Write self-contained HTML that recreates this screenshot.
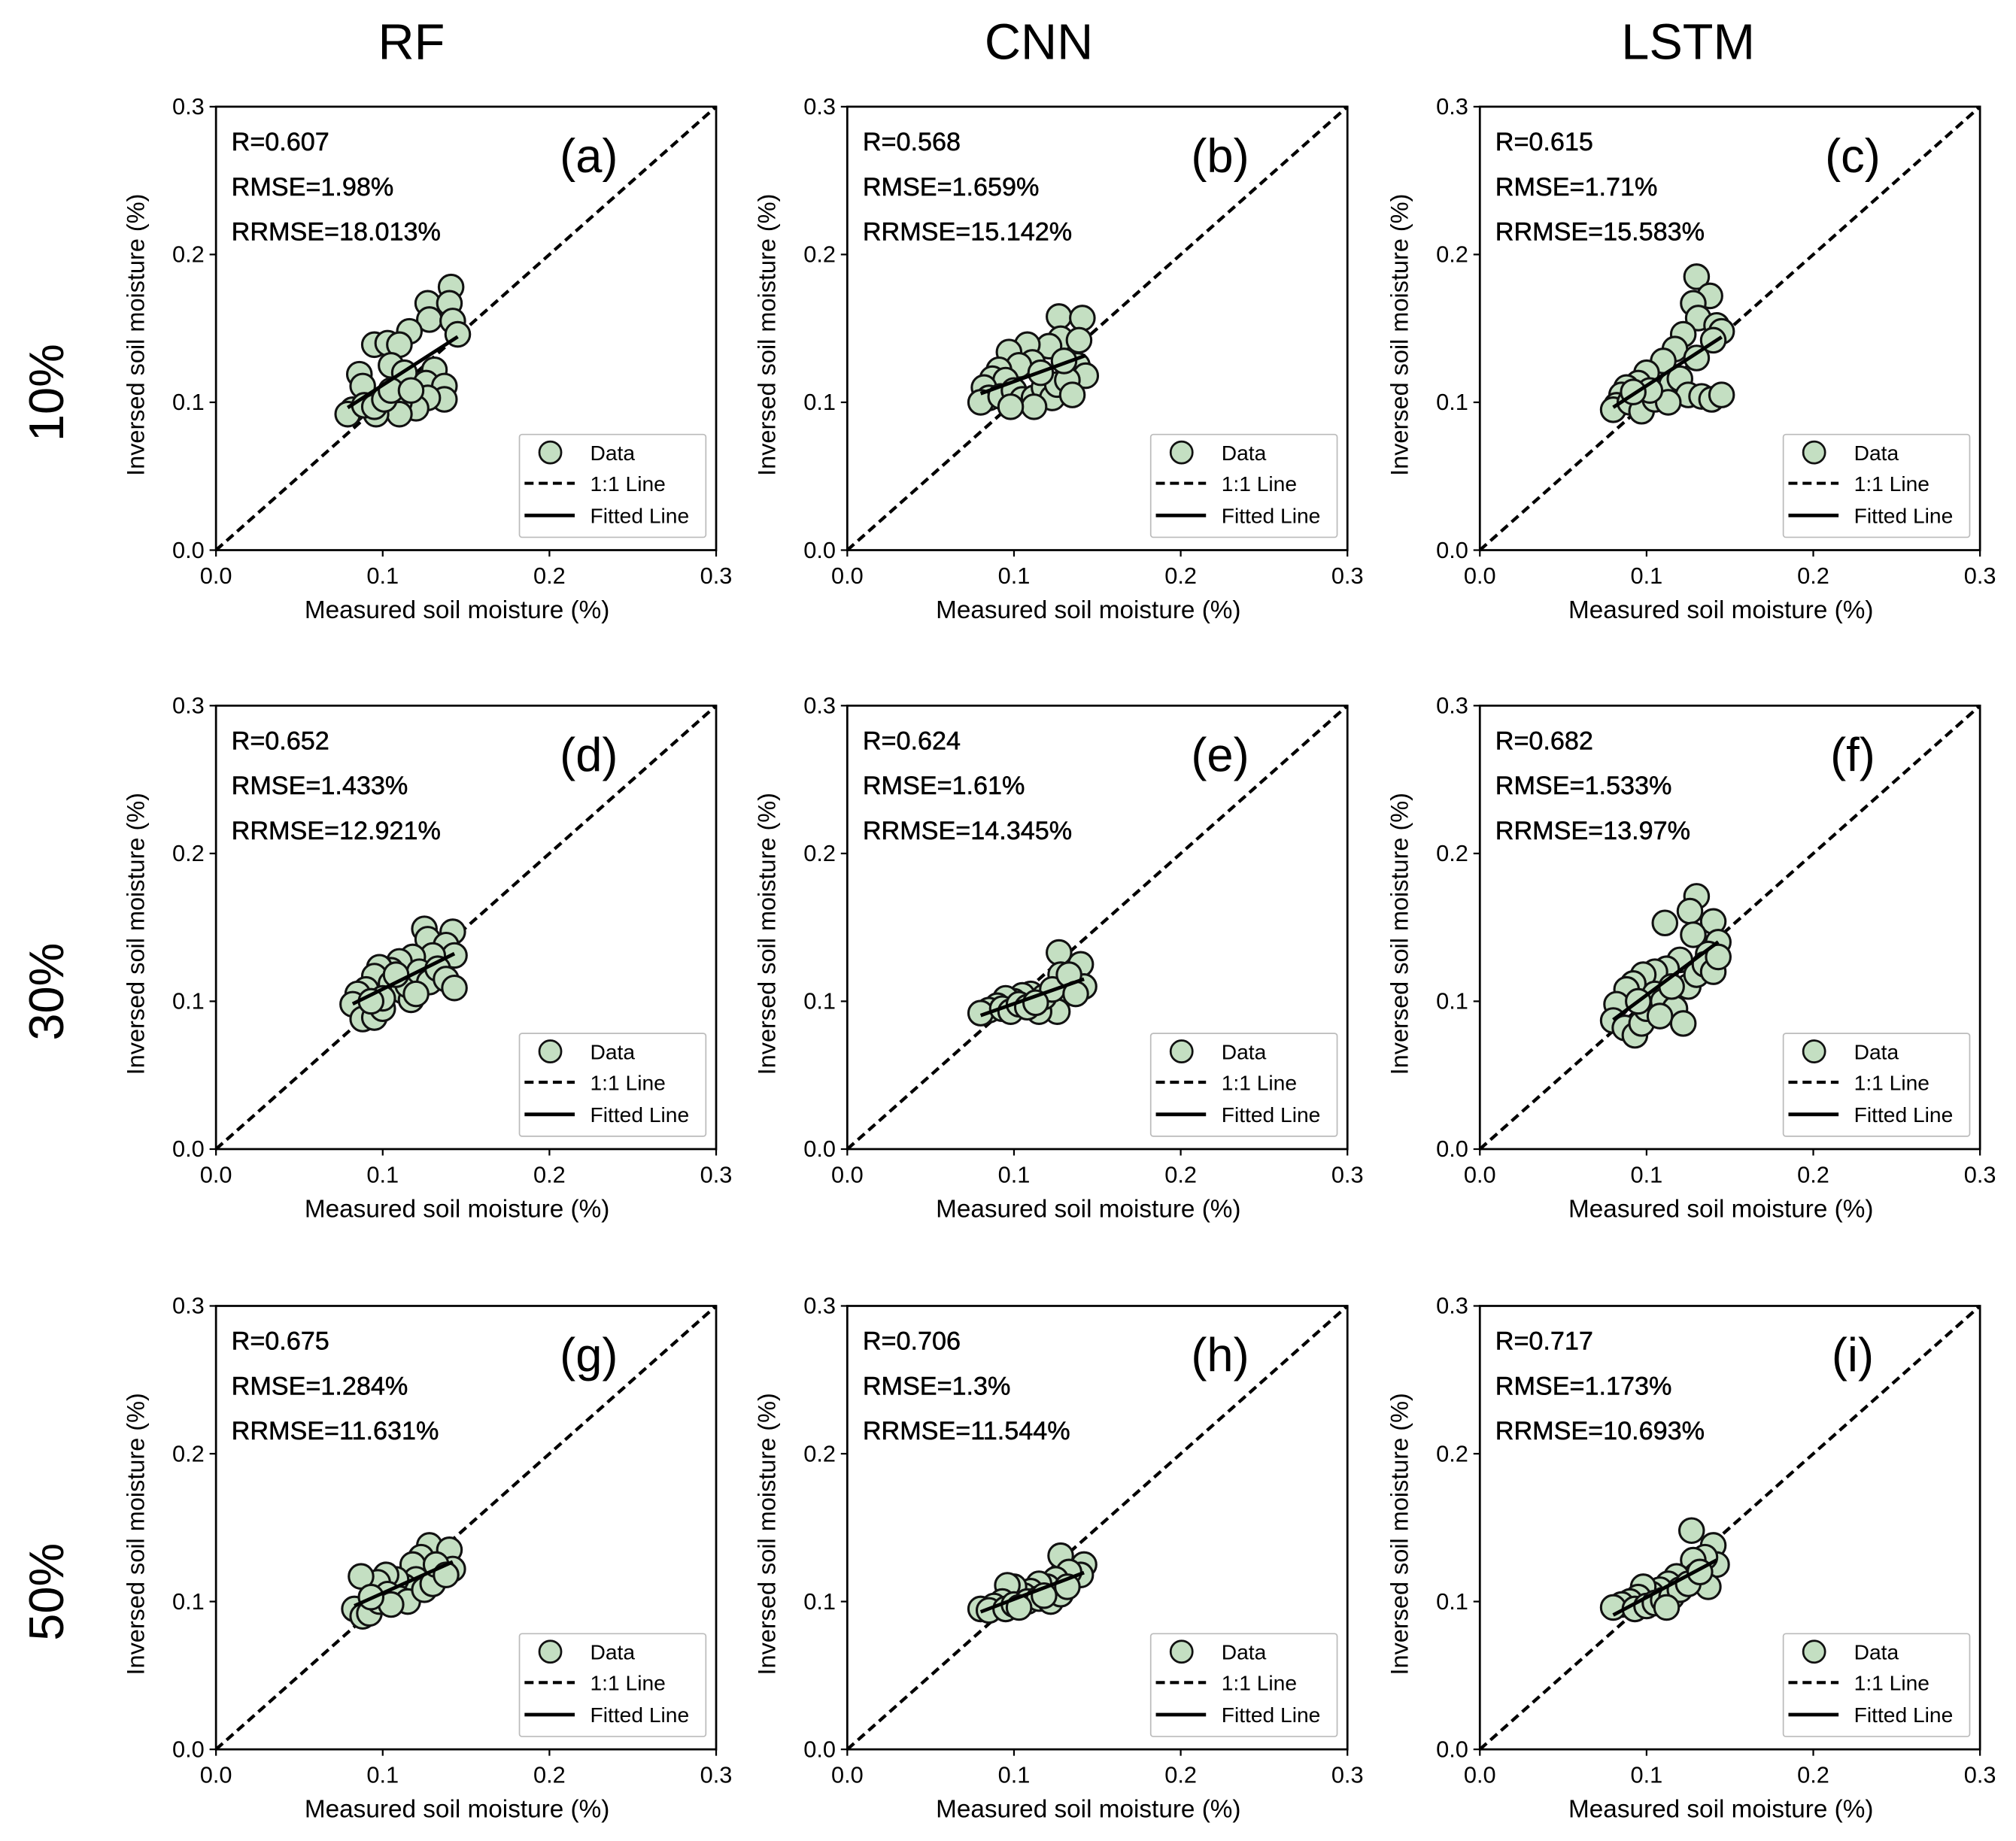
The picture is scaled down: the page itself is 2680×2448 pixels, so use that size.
<!DOCTYPE html>
<html><head><meta charset="utf-8"><style>
html,body{margin:0;padding:0;background:#fff}
svg{display:block}
text{font-family:"Liberation Sans",Arial,sans-serif;fill:#000}
</style></head><body>
<svg id="fig" width="2680" height="2448" viewBox="0 0 1568 1432.3" preserveAspectRatio="none" xmlns="http://www.w3.org/2000/svg"></svg>
<script>
const modelNames = ["RF","CNN","LSTM"];
const rowNames = ["10%","30%","50%"];
const panelLetters = ["(a)","(b)","(c)","(d)","(e)","(f)","(g)","(h)","(i)"];
const statR = ["0.607","0.568","0.615","0.652","0.624","0.682","0.675","0.706","0.717"];
const statRMSE = ["1.98%","1.659%","1.71%","1.433%","1.61%","1.533%","1.284%","1.3%","1.173%"];
const statRRMSE = ["18.013%","15.142%","15.583%","12.921%","14.345%","13.97%","11.631%","11.544%","10.693%"];
const ticks = [0.0,0.1,0.2,0.3];
const tickLabels = ["0.0","0.1","0.2","0.3"];
const dataA = [[0.141,0.178],[0.127,0.167],[0.140,0.167],[0.128,0.156],[0.142,0.155],[0.116,0.148],[0.095,0.139],[0.103,0.140],[0.110,0.139],[0.145,0.146],[0.105,0.125],[0.086,0.119],[0.088,0.111],[0.113,0.120],[0.131,0.122],[0.126,0.113],[0.137,0.111],[0.137,0.102],[0.127,0.103],[0.120,0.096],[0.110,0.100],[0.110,0.092],[0.096,0.092],[0.082,0.095],[0.079,0.092],[0.089,0.098],[0.095,0.097],[0.101,0.102],[0.105,0.108],[0.117,0.108]];
const dataB = [[0.127,0.158],[0.141,0.157],[0.128,0.143],[0.139,0.142],[0.138,0.125],[0.143,0.118],[0.121,0.138],[0.108,0.139],[0.097,0.134],[0.111,0.127],[0.103,0.125],[0.091,0.122],[0.087,0.116],[0.095,0.115],[0.082,0.110],[0.085,0.103],[0.080,0.100],[0.092,0.104],[0.100,0.108],[0.105,0.102],[0.112,0.103],[0.118,0.110],[0.123,0.103],[0.126,0.112],[0.132,0.115],[0.112,0.097],[0.098,0.097],[0.130,0.128],[0.116,0.120],[0.135,0.105]];
const dataC = [[0.130,0.185],[0.138,0.172],[0.128,0.167],[0.131,0.157],[0.142,0.152],[0.145,0.148],[0.140,0.142],[0.122,0.146],[0.117,0.136],[0.130,0.130],[0.110,0.128],[0.100,0.120],[0.095,0.113],[0.088,0.110],[0.085,0.105],[0.082,0.098],[0.080,0.095],[0.090,0.100],[0.097,0.094],[0.105,0.102],[0.110,0.107],[0.115,0.112],[0.120,0.116],[0.125,0.105],[0.133,0.104],[0.139,0.102],[0.145,0.105],[0.113,0.100],[0.102,0.108],[0.092,0.107]];
const dataD = [[0.125,0.149],[0.142,0.147],[0.127,0.142],[0.138,0.138],[0.143,0.131],[0.130,0.131],[0.118,0.130],[0.110,0.127],[0.105,0.121],[0.098,0.123],[0.095,0.117],[0.090,0.108],[0.085,0.105],[0.082,0.098],[0.088,0.088],[0.095,0.089],[0.100,0.095],[0.105,0.112],[0.112,0.107],[0.117,0.101],[0.115,0.111],[0.122,0.120],[0.128,0.113],[0.133,0.122],[0.138,0.115],[0.143,0.109],[0.100,0.102],[0.093,0.100],[0.108,0.118],[0.120,0.105]];
const dataE = [[0.127,0.133],[0.140,0.125],[0.128,0.118],[0.135,0.113],[0.142,0.110],[0.130,0.105],[0.120,0.100],[0.126,0.093],[0.115,0.093],[0.110,0.105],[0.105,0.104],[0.100,0.100],[0.095,0.102],[0.090,0.097],[0.085,0.094],[0.080,0.092],[0.093,0.095],[0.098,0.093],[0.103,0.098],[0.108,0.096],[0.118,0.103],[0.123,0.108],[0.133,0.118],[0.137,0.105],[0.113,0.099]];
const dataF = [[0.111,0.153],[0.130,0.171],[0.126,0.161],[0.140,0.154],[0.128,0.145],[0.143,0.140],[0.137,0.132],[0.120,0.128],[0.112,0.122],[0.105,0.120],[0.098,0.118],[0.092,0.112],[0.088,0.108],[0.082,0.098],[0.080,0.087],[0.087,0.082],[0.093,0.077],[0.097,0.085],[0.100,0.095],[0.105,0.105],[0.110,0.100],[0.117,0.095],[0.122,0.085],[0.125,0.110],[0.130,0.118],[0.135,0.125],[0.140,0.120],[0.095,0.100],[0.108,0.090],[0.115,0.110],[0.143,0.130]];
const dataG = [[0.128,0.138],[0.140,0.135],[0.142,0.122],[0.135,0.120],[0.123,0.130],[0.118,0.125],[0.120,0.115],[0.113,0.110],[0.108,0.115],[0.102,0.118],[0.097,0.113],[0.087,0.117],[0.083,0.095],[0.088,0.090],[0.092,0.092],[0.098,0.100],[0.103,0.105],[0.110,0.102],[0.115,0.100],[0.125,0.108],[0.130,0.112],[0.105,0.098],[0.093,0.103],[0.132,0.125],[0.138,0.118]];
const dataH = [[0.128,0.131],[0.142,0.125],[0.140,0.118],[0.133,0.120],[0.125,0.115],[0.120,0.110],[0.115,0.112],[0.110,0.107],[0.106,0.104],[0.100,0.110],[0.096,0.111],[0.093,0.100],[0.088,0.097],[0.080,0.095],[0.085,0.094],[0.095,0.095],[0.100,0.098],[0.108,0.100],[0.115,0.102],[0.122,0.100],[0.128,0.105],[0.132,0.110],[0.103,0.096],[0.118,0.104]];
const dataI = [[0.127,0.148],[0.140,0.138],[0.142,0.125],[0.135,0.130],[0.128,0.128],[0.130,0.118],[0.137,0.110],[0.122,0.115],[0.118,0.117],[0.113,0.112],[0.108,0.108],[0.103,0.105],[0.098,0.110],[0.095,0.103],[0.090,0.100],[0.085,0.098],[0.080,0.096],[0.093,0.095],[0.100,0.097],[0.105,0.099],[0.110,0.101],[0.115,0.103],[0.120,0.108],[0.125,0.112],[0.132,0.120],[0.112,0.096]];
const panelData = [dataA,dataB,dataC,dataD,dataE,dataF,dataG,dataH,dataI];

const NS = "http://www.w3.org/2000/svg";
const svg = document.getElementById("fig");
function mk(tag, attrs, parent, txt){
  const e = document.createElementNS(NS, tag);
  for (const k in attrs) e.setAttribute(k, attrs[k]);
  if (txt !== undefined) e.textContent = txt;
  (parent||svg).appendChild(e);
  return e;
}
const colX = [168,659,1151], rowY = [83,549,1016];
const W = 389, H = 345;
const titleX = [320,808,1313];

modelNames.forEach((m,i)=>{
  const t = mk("text",{x:titleX[i],y:46,"font-size":39,"text-anchor":"middle"},svg,m);
  
  
});
rowNames.forEach((r,j)=>{
  const cy = rowY[j]+H/2+50;
  const t = mk("text",{x:0,y:0,"font-size":38,"text-anchor":"middle",transform:`translate(49,${cy}) rotate(-90)`},svg,r);
  
  
});

panelData.forEach((pts,p)=>{
  const ci = p%3, ri = Math.floor(p/3);
  const x0 = colX[ci], y0 = rowY[ri];
  const sx = v => x0 + v/0.3*W;
  const sy = v => y0 + H - v/0.3*H;
  const g = mk("g",{});
  
  
  ticks.forEach((t,k)=>{
    mk("line",{x1:sx(t),x2:sx(t),y1:y0+H,y2:y0+H+5,stroke:"#000","stroke-width":1.3},g);
    const xl = mk("text",{x:sx(t),y:y0+H+26,"font-size":18,"text-anchor":"middle"},g,tickLabels[k]);
    
    
    mk("line",{x1:x0-5,x2:x0,y1:sy(t),y2:sy(t),stroke:"#000","stroke-width":1.3},g);
    const yl = mk("text",{x:x0-9,y:sy(t)+6,"font-size":18,"text-anchor":"end"},g,tickLabels[k]);
    
    
  });
  const xt = mk("text",{x:x0+W/2-7,y:y0+H+53,"font-size":19.5,"text-anchor":"middle"},g,"Measured soil moisture (%)");
  
  
  const yt = mk("text",{x:0,y:0,"font-size":19,"text-anchor":"middle",transform:`translate(${x0-56},${y0+H/2+5}) rotate(-90)`},g,"Inversed soil moisture (%)");
  
  
  const dl = mk("line",{x1:sx(0),y1:sy(0),x2:sx(0.3),y2:sy(0.3),stroke:"#000","stroke-width":2.5,"stroke-dasharray":"7,4"},g);
  
  
  pts.forEach(d=>{
    const c = mk("circle",{cx:sx(d[0]),cy:sy(d[1]),r:9.5,fill:"#c4dfc2",stroke:"#111","stroke-width":1.8},g);
    
    
  });
  const n = pts.length;
  let mx=0,my=0; pts.forEach(d=>{mx+=d[0];my+=d[1];}); mx/=n; my/=n;
  let sxy=0,sxx=0; pts.forEach(d=>{sxy+=(d[0]-mx)*(d[1]-my); sxx+=(d[0]-mx)**2;});
  const b = sxy/sxx, a = my-b*mx;
  const xs = pts.map(d=>d[0]); const xmin=Math.min(...xs), xmax=Math.max(...xs);
  const fl = mk("line",{x1:sx(xmin),y1:sy(a+b*xmin),x2:sx(xmax),y2:sy(a+b*xmax),stroke:"#000","stroke-width":2.8},g);
  
  
  mk("rect",{x:x0,y:y0,width:W,height:H,fill:"none",stroke:"#000","stroke-width":1.6},g);
  [["R="+statR[p],27],["RMSE="+statRMSE[p],62],["RRMSE="+statRRMSE[p],97]].forEach((s,k)=>{
    const t = mk("text",{x:x0+12,y:y0+s[1]+7,"font-size":20,"stroke":"#000","stroke-width":0.3},g,s[0]);
    
    
  });
  const pl = mk("text",{x:x0+290,y:y0+51,"font-size":37,"text-anchor":"middle"},g,panelLetters[p]);
  
  
  const lg = mk("g",{},g);
  
  
  const lx = x0+236, ly = y0+255;
  mk("rect",{x:lx,y:ly,width:145,height:80,fill:"#fff",stroke:"#bbb","stroke-width":1,rx:2},lg);
  mk("circle",{cx:lx+24,cy:ly+14,r:8.5,fill:"#c4dfc2",stroke:"#111","stroke-width":1.6},lg);
  mk("line",{x1:lx+4,x2:lx+43,y1:ly+38,y2:ly+38,stroke:"#000","stroke-width":2.4,"stroke-dasharray":"7,4"},lg);
  mk("line",{x1:lx+4,x2:lx+43,y1:ly+63,y2:ly+63,stroke:"#000","stroke-width":2.8},lg);
  const e1=mk("text",{x:lx+55,y:ly+20,"font-size":16.5},lg,"Data");
  
  
  const e2=mk("text",{x:lx+55,y:ly+44,"font-size":16.5},lg,"1:1 Line");
  
  
  const e3=mk("text",{x:lx+55,y:ly+69,"font-size":16.5},lg,"Fitted Line");
  
  
});
</script>
</body></html>
